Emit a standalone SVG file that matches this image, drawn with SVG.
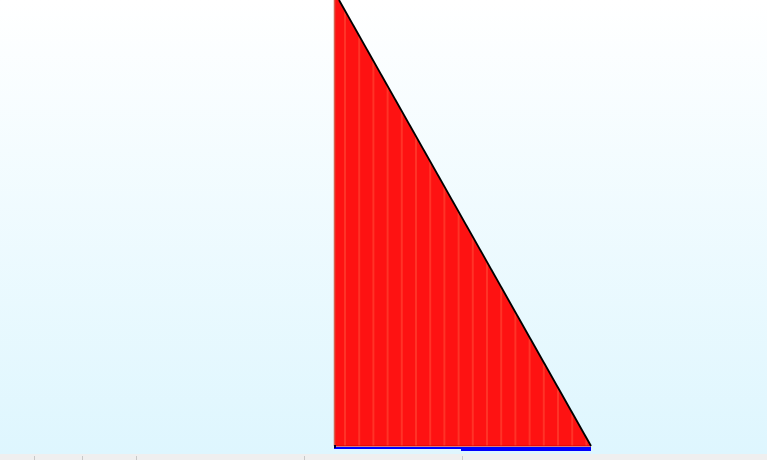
<svg xmlns="http://www.w3.org/2000/svg" width="767" height="460" viewBox="0 0 767 460">
<defs>
<linearGradient id="bg" x1="0" y1="0" x2="0" y2="1">
<stop offset="0" stop-color="#ffffff"/>
<stop offset="1" stop-color="#def6fe"/>
</linearGradient>
<clipPath id="tri"><polygon points="334,0 339,0 591,446 334,446"/></clipPath>
</defs>
<style>
.stripe{stroke:#ff3327;stroke-width:2}
.tick{stroke:#c8c8c8;stroke-width:1}
</style>
<rect x="0" y="0" width="767" height="455" fill="url(#bg)"/>
<rect x="0" y="454" width="767" height="6" fill="#efefef"/>
<g>
<line class="tick" x1="34.5" y1="456" x2="34.5" y2="460"/>
<line class="tick" x1="82.5" y1="456" x2="82.5" y2="460"/>
<line class="tick" x1="136.5" y1="456" x2="136.5" y2="460"/>
<line class="tick" x1="304.5" y1="456" x2="304.5" y2="460"/>
<line class="tick" x1="462.5" y1="456" x2="462.5" y2="460"/>
</g>
<polygon points="334,0 339,0 591,446 334,446" fill="#fe1212"/>
<g clip-path="url(#tri)">
<line class="stripe" x1="345" y1="0" x2="345" y2="446"/>
<line class="stripe" x1="359.2" y1="0" x2="359.2" y2="446"/>
<line class="stripe" x1="373.4" y1="0" x2="373.4" y2="446"/>
<line class="stripe" x1="387.6" y1="0" x2="387.6" y2="446"/>
<line class="stripe" x1="401.8" y1="0" x2="401.8" y2="446"/>
<line class="stripe" x1="416" y1="0" x2="416" y2="446"/>
<line class="stripe" x1="430.2" y1="0" x2="430.2" y2="446"/>
<line class="stripe" x1="444.4" y1="0" x2="444.4" y2="446"/>
<line class="stripe" x1="458.6" y1="0" x2="458.6" y2="446"/>
<line class="stripe" x1="472.8" y1="0" x2="472.8" y2="446"/>
<line class="stripe" x1="487" y1="0" x2="487" y2="446"/>
<line class="stripe" x1="501.2" y1="0" x2="501.2" y2="446"/>
<line class="stripe" x1="515.4" y1="0" x2="515.4" y2="446"/>
<line class="stripe" x1="529.6" y1="0" x2="529.6" y2="446"/>
<line class="stripe" x1="543.8" y1="0" x2="543.8" y2="446"/>
<line class="stripe" x1="558" y1="0" x2="558" y2="446"/>
<line class="stripe" x1="572.2" y1="0" x2="572.2" y2="446"/>
<line class="stripe" x1="586.4" y1="0" x2="586.4" y2="446"/>
</g>
<line x1="334.5" y1="0" x2="334.5" y2="446" stroke="#d8604e" stroke-width="1.5"/>
<line x1="334" y1="446" x2="591" y2="446" stroke="#d00000" stroke-width="1"/>
<line x1="339" y1="0" x2="591" y2="446" stroke="#000000" stroke-width="1.8"/>
<rect x="334" y="447" width="257" height="2" fill="#0000ff"/>
<rect x="461" y="447" width="130" height="4" fill="#0000ff"/>
<rect x="334" y="445" width="2" height="3" fill="#000033"/>
</svg>
